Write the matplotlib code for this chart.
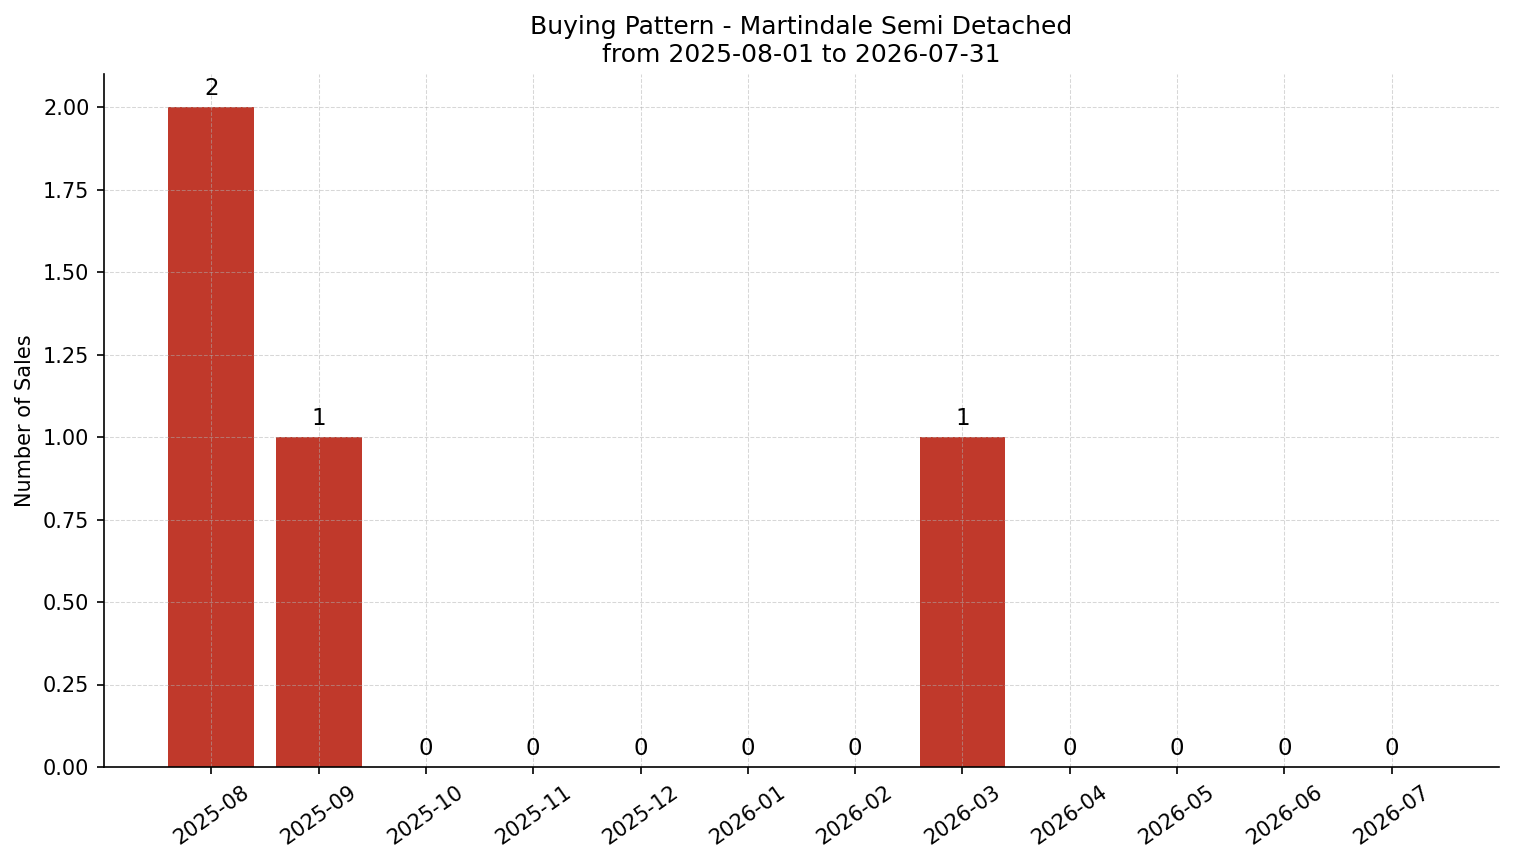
import matplotlib.pyplot as plt
import numpy as np

months = ['2025-08', '2025-09', '2025-10', '2025-11', '2025-12', '2026-01',
          '2026-02', '2026-03', '2026-04', '2026-05', '2026-06', '2026-07']
sales = [2, 1, 0, 0, 0, 0, 0, 1, 0, 0, 0, 0]

fig = plt.figure(figsize=(1514 / 150, 863 / 150), dpi=150)
ax = fig.add_axes([104 / 1514, 1 - 767 / 863, (1499 - 104) / 1514, (767 - 74) / 863])

x = np.arange(len(months))
ax.bar(x, sales, width=0.8, color='#c0392b')
for i, v in zip(x, sales):
    ax.text(i, v + 0.02, str(v), ha='center', va='bottom', fontsize=11)

ax.set_xlim(-1, len(months))
ax.set_ylim(0, 2.1)
ax.set_xticks(x)
ax.set_xticklabels(months, rotation=35)
ax.set_ylabel('Number of Sales')
ax.set_title('Buying Pattern - Martindale Semi Detached\nfrom 2025-08-01 to 2026-07-31', fontsize=12)
ax.grid(True, linestyle='--', alpha=0.5, linewidth=0.5)
ax.spines['top'].set_visible(False)
ax.spines['right'].set_visible(False)

fig.savefig('out.png', dpi=150)
